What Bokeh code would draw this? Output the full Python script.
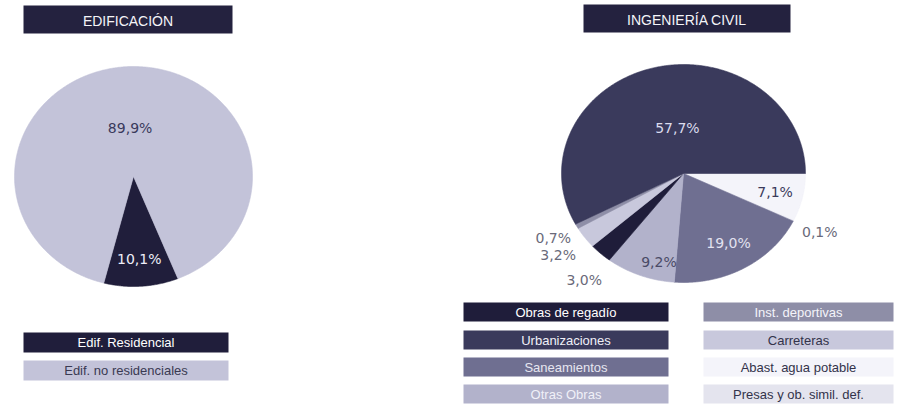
import numpy as np
from bokeh.plotting import figure
from bokeh.models import Range1d, ColumnDataSource
from bokeh.embed import file_html
from bokeh.resources import INLINE
from bokeh.core.properties import value

# ---------------- data ----------------
titles = ["EDIFICACIÓN", "INGENIERÍA CIVIL"]

edif_categories = ["Edif. Residencial", "Edif. no residenciales"]
edif_values = [10.1, 89.9]
edif_labels = ["10,1%", "89,9%"]

civil_categories = ["Abast. agua potable", "Presas y ob. simil. def.", "Saneamientos",
                    "Otras Obras", "Obras de regadío", "Carreteras", "Inst. deportivas",
                    "Urbanizaciones"]
civil_values = [7.1, 0.1, 19.0, 9.2, 3.0, 3.2, 0.7, 57.7]
civil_labels = ["7,1%", "0,1%", "19,0%", "9,2%", "3,0%", "3,2%", "0,7%", "57,7%"]

legend_left = ["Obras de regadío", "Urbanizaciones", "Saneamientos", "Otras Obras"]
legend_right = ["Inst. deportivas", "Carreteras", "Abast. agua potable", "Presas y ob. simil. def."]

# ---------------- style ----------------
FONT = "Liberation Sans"
LABEL_FONT = "DejaVu Sans"
BAR = "#24223f"
colors = {
    "Edif. Residencial": "#201e3b",
    "Edif. no residenciales": "#c3c3d9",
    "Obras de regadío": "#1f1d3a",
    "Urbanizaciones": "#3a3a5c",
    "Saneamientos": "#6f6f91",
    "Otras Obras": "#b2b2cb",
    "Inst. deportivas": "#8e8ea7",
    "Carreteras": "#c8c8dc",
    "Abast. agua potable": "#f4f4fa",
    "Presas y ob. simil. def.": "#e4e4ee",
}
text_colors = {
    "Edif. Residencial": "#ffffff",
    "Edif. no residenciales": "#3a3a52",
    "Obras de regadío": "#ffffff",
    "Urbanizaciones": "#f0f0f8",
    "Saneamientos": "#e6e6f0",
    "Otras Obras": "#f0f0f8",
    "Inst. deportivas": "#f4f4fa",
    "Carreteras": "#33334a",
    "Abast. agua potable": "#33334a",
    "Presas y ob. simil. def.": "#33334a",
}
edif_label_r = [0.75, 0.44]
edif_label_da = [0, 0]
edif_label_col = ["#eeeef8", "#3a3a5c"]
civil_label_r = [0.77, 1.24, 0.74, 0.84, 1.27, 1.27, 1.22, 0.42]
civil_label_da = [0, 0, 0, 7, 3, 0, 0, -7]
civil_label_col = ["#3a3a5a", "#6a6a7a", "#e2e2f0", "#4a4a66", "#6a6a7a", "#6a6a7a",
                   "#6a6a7a", "#dcdcee"]

W, H = 904, 404
p = figure(width=W, height=H, output_backend="svg", toolbar_location=None,
           x_range=Range1d(0, W), y_range=Range1d(H, 0), min_border=0)
p.axis.visible = False
p.grid.visible = False
p.outline_line_color = None
p.background_fill_color = "white"


def pie(values, cats, cx, cy, rx, ry, start_deg, label_r, label_da, labels, label_cols):
    vals = np.array(values, dtype=float)
    fr = vals / vals.sum()
    ends = start_deg - 360.0 * np.cumsum(fr)          # clockwise
    starts = np.concatenate([[start_deg], ends[:-1]])
    xs, ys, fills = [], [], []
    lx, ly = [], []
    for s, e, c, r, da in zip(starts, ends, cats, label_r, label_da):
        n = max(3, int(abs(s - e) * 2))
        th = np.radians(np.linspace(s, e, n))
        xs.append([cx] + list(cx + rx * np.cos(th)))
        ys.append([cy] + list(cy - ry * np.sin(th)))
        fills.append(colors[c])
        m = np.radians((s + e) / 2 + da)
        lx.append(cx + r * rx * np.cos(m))
        ly.append(cy - r * ry * np.sin(m))
    src = ColumnDataSource(dict(xs=xs, ys=ys, fill=fills))
    p.patches("xs", "ys", source=src, fill_color="fill", line_color="fill", line_width=0.6)
    lsrc = ColumnDataSource(dict(x=lx, y=ly, t=labels, c=label_cols))
    p.text("x", "y", text="t", source=lsrc, text_color="c", text_align="center",
           text_baseline="middle", text_font=value(LABEL_FONT), text_font_size="14px")


def title_bar(text, x0, x1, y0, y1):
    p.quad(left=[x0], right=[x1], top=[y0], bottom=[y1], fill_color=BAR, line_color=None)
    p.text(x=[(x0 + x1) / 2], y=[(y0 + y1) / 2 + 1], text=[text], text_color="#f4f4f8",
           text_align="center", text_baseline="middle", text_font=value(FONT),
           text_font_size="14px")


def legend(cats, x0, x1, tops, h):
    src = ColumnDataSource(dict(
        l=[x0] * len(cats), r=[x1] * len(cats), t=tops[:len(cats)],
        b=[t + h for t in tops[:len(cats)]], f=[colors[c] for c in cats],
        x=[(x0 + x1) / 2] * len(cats), y=[t + h / 2 for t in tops[:len(cats)]],
        txt=cats, tc=[text_colors[c] for c in cats]))
    p.quad(left="l", right="r", top="t", bottom="b", fill_color="f", line_color=None, source=src)
    p.text("x", "y", text="txt", text_color="tc", source=src, text_align="center",
           text_baseline="middle", text_font=value(FONT), text_font_size="13px")


# titles
title_bar(titles[0], 23, 232, 5, 33)
title_bar(titles[1], 583, 790, 4, 32)

# pies
pie(edif_values, edif_categories, 133, 176, 119, 110, 291.9, edif_label_r, edif_label_da,
    edif_labels, edif_label_col)
pie(civil_values, civil_categories, 683, 173, 122, 109, 0.0, civil_label_r, civil_label_da,
    civil_labels, civil_label_col)

# legends
legend(edif_categories, 23, 228, [332, 360], 20)
legend(legend_left, 463, 668, [302, 330, 357, 384], 19)
legend(legend_right, 703, 893, [302, 330, 357, 384], 19)

open("out.html", "w").write(file_html(p, INLINE))
